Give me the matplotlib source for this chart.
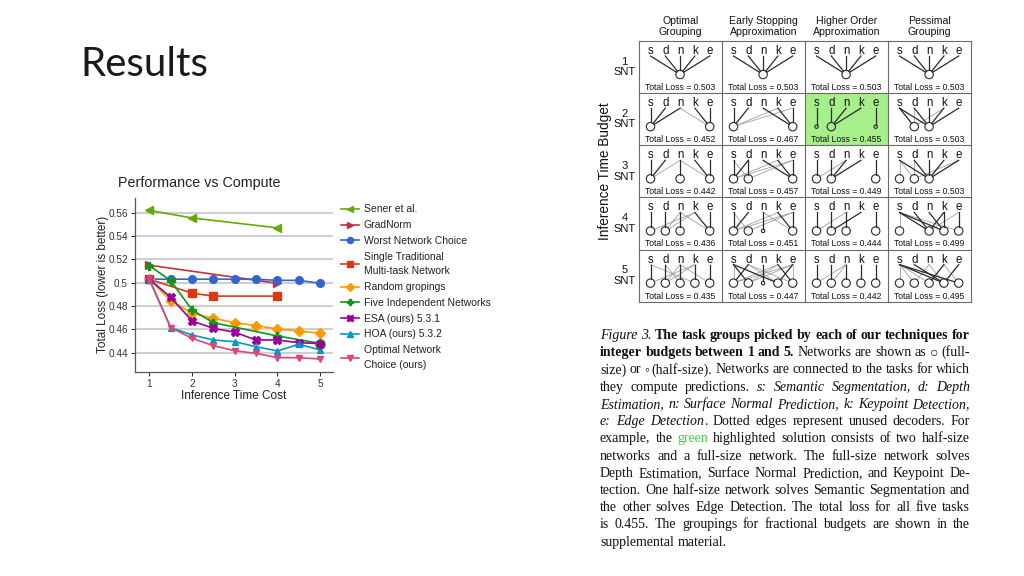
import matplotlib
matplotlib.use("Agg")
import matplotlib.pyplot as plt
from matplotlib import font_manager
from matplotlib.patches import Circle, Rectangle
import math

# ---------------- chart data ----------------
x_sener = [1, 2, 4]
y_sener = [0.562, 0.5555, 0.547]
x_gradnorm = [1, 4]
y_gradnorm = [0.515, 0.4995]
x_half = [1, 1.5, 2, 2.5, 3, 3.5, 4, 4.5, 5]
y_worst = [0.503, 0.503, 0.503, 0.503, 0.503, 0.503, 0.502, 0.502, 0.4995]
x_single = [1, 2, 2.5, 4]
y_single = [0.503, 0.491, 0.4885, 0.4885]
y_random = [0.503, 0.4846, 0.4738, 0.4695, 0.4657, 0.4632, 0.4603, 0.4586, 0.4566]
x_five = [1, 1.5, 2, 2.5, 4, 5]
y_five = [0.5146, 0.5018, 0.4766, 0.4657, 0.4543, 0.448]
y_esa = [0.503, 0.4875, 0.4672, 0.4609, 0.4575, 0.4509, 0.4509, 0.4486, 0.4478]
y_hoa = [0.503, 0.4615, 0.4552, 0.4509, 0.4494, 0.4451, 0.4415, 0.4472, 0.4424]
y_opt = [0.503, 0.4615, 0.4523, 0.446, 0.4417, 0.4394, 0.4357, 0.4357, 0.4346]

series_labels = ["Sener et al.", "GradNorm", "Worst Network Choice",
                 "Single Traditional\nMulti-task Network", "Random gropings",
                 "Five Independent Networks", "ESA (ours) 5.3.1", "HOA (ours) 5.3.2",
                 "Optimal Network\nChoice (ours)"]
series_colors = ["#66aa00", "#c4303f", "#3366cc", "#dc3912", "#ff9900",
                 "#109618", "#990099", "#0099c6", "#dd4477"]
y_ticks = [0.44, 0.46, 0.48, 0.5, 0.52, 0.54, 0.56]
y_tick_labels = ["0.44", "0.46", "0.48", "0.5", "0.52", "0.54", "0.56"]
x_ticks = [1, 2, 3, 4, 5]

# ---------------- diagram data ----------------
tasks = ["s", "d", "n", "k", "e"]
col_titles = ["Optimal\nGrouping", "Early Stopping\nApproximation",
              "Higher Order\nApproximation", "Pessimal\nGrouping"]
budgets = [1, 2, 3, 4, 5]
total_loss = [[0.503, 0.503, 0.503, 0.503],
              [0.452, 0.467, 0.455, 0.503],
              [0.442, 0.457, 0.449, 0.503],
              [0.436, 0.451, 0.444, 0.499],
              [0.435, 0.447, 0.442, 0.495]]
# each network: (slot, size, solid-task-edges, dotted-task-edges)
groupings = [
    [[(2, "F", "sdnke", "")]] * 4,
    [[(0, "F", "sdn", ""), (4, "F", "ke", "n")],
     [(0, "F", "sd", "ke"), (4, "F", "nke", "")],
     [(0, "H", "s", ""), (1, "F", "dnk", ""), (4, "H", "e", "")],
     [(1, "F", "s", "dk"), (2, "F", "sdnke", "")]],
    [[(0, "F", "sd", "n"), (2, "F", "n", ""), (4, "F", "ke", "n")],
     [(0, "F", "sd", "ke"), (1, "F", "d", "se"), (4, "F", "nke", "")],
     [(0, "F", "s", "n"), (1, "F", "dnk", ""), (4, "F", "e", "")],
     [(0, "F", "", "s"), (1, "F", "", "sde"), (2, "F", "sdnke", "")]],
    [[(0, "F", "s", "k"), (1, "F", "d", "nk"), (2, "F", "n", ""), (4, "F", "ke", "n")],
     [(0, "F", "sd", "ke"), (1, "F", "", "se"), (2, "H", "n", ""), (4, "F", "ke", "n")],
     [(0, "F", "s", "n"), (1, "F", "dk", ""), (2, "F", "n", ""), (4, "F", "e", "")],
     [(0, "F", "", "s"), (2, "F", "sdk", "e"), (3, "F", "snk", ""), (4, "F", "e", "s")]],
    [[(0, "F", "s", "k"), (1, "F", "d", "nk"), (2, "F", "n", "d"), (3, "F", "k", "s"), (4, "F", "e", "n")],
     [(0, "F", "d", "ske"), (1, "F", "s", "ke"), (2, "H", "n", ""), (3, "F", "se", "d"), (4, "F", "k", "de")],
     [(0, "F", "s", "n"), (1, "F", "d", "n"), (2, "F", "n", ""), (3, "F", "k", ""), (4, "F", "e", "")],
     [(0, "F", "", "s"), (1, "F", "", "sn"), (2, "F", "k", "s"), (3, "F", "sde", "n"), (4, "F", "s", "k")]],
]
highlight_cell = (1, 2)

caption_lines = [
    [("Figure 3.", "i"), (" The task groups picked by each of our techniques for", "b")],
    [("integer budgets between 1 and 5.", "b"), (" Networks are shown as \u25CB (full-", "n")],
    [("size) or \u25E6 (half-size). Networks are connected to the tasks for which", "n")],
    [("they compute predictions. ", "n"), ("s: Semantic Segmentation, d: Depth", "i")],
    [("Estimation, n: Surface Normal Prediction, k: Keypoint Detection,", "i")],
    [("e: Edge Detection", "i"), (". Dotted edges represent unused decoders. For", "n")],
    [("example, the ", "n"), ("green", "g"), (" highlighted solution consists of two half-size", "n")],
    [("networks and a full-size network.  The full-size network solves", "n")],
    [("Depth Estimation, Surface Normal Prediction, and Keypoint De-", "n")],
    [("tection. One half-size network solves Semantic Segmentation and", "n")],
    [("the other solves Edge Detection. The total loss for all five tasks", "n")],
    [("is 0.455. The groupings for fractional budgets are shown in the", "n")],
    [("supplemental material.", "n")],
]


def has_font(name):
    try:
        font_manager.findfont(font_manager.FontProperties(family=name),
                              fallback_to_default=False)
        return True
    except Exception:
        return False


plt.rcParams["font.family"] = ["Liberation Sans", "DejaVu Sans"]
narrow = has_font("Liberation Sans Narrow")
title_font = "Lato" if has_font("Lato") else "DejaVu Sans"

fig = plt.figure(figsize=(10.24, 5.76), dpi=100)
fig.patch.set_facecolor("white")

# overlay axes in pixel coordinates (origin top-left)
ov = fig.add_axes([0, 0, 1, 1])
ov.set_xlim(0, 1024)
ov.set_ylim(576, 0)
ov.axis("off")
ov.patch.set_visible(False)

# ---------------- slide title ----------------
ov.text(80, 75.5, "Results", fontsize=29, family=[title_font, "DejaVu Sans"],
        fontweight="normal", color="#1a1a1a", va="baseline", ha="left")

# ---------------- line chart ----------------
ax = fig.add_axes([135 / 1024, 1 - 371.7 / 576, 198 / 1024, 173.7 / 576])
series = [
    (x_sener, y_sener, "<", 5.5),
    (x_gradnorm, y_gradnorm, ">", 5.5),
    (x_half, y_worst, "o", 5.5),
    (x_single, y_single, "s", 5.2),
    (x_half, y_random, "D", 4.6),
    (x_five, y_five, "P", 6.2),
    (x_half, y_esa, "X", 6.2),
    (x_half, y_hoa, "^", 5.0),
    (x_half, y_opt, "v", 5.0),
]
for (xs, ys, mk, ms), lab, col in zip(series, series_labels, series_colors):
    ax.plot(xs, ys, color=col, lw=1.2, marker=mk, ms=ms, mec=col, mfc=col,
            label=lab, zorder=3)
ax.plot([x_half[-1]], [y_esa[-1]], "o", color=series_colors[6], mec="#555555",
        ms=6.5, zorder=4)

ax.set_xlim(0.665, 5.3)
ax.set_ylim(0.4237, 0.5726)
ax.set_yticks(y_ticks)
ax.set_yticklabels(y_tick_labels)
ax.set_xticks(x_ticks)
ax.grid(axis="y", color="#cfcfcf", lw=1.5)
ax.set_axisbelow(True)
for s in ["top", "right"]:
    ax.spines[s].set_visible(False)
for s in ["left", "bottom"]:
    ax.spines[s].set_color("#555555")
    ax.spines[s].set_linewidth(0.9)
ax.tick_params(axis="both", labelsize=7.2, colors="#333333", length=3, width=0.8,
               pad=2)
ax.patch.set_visible(False)
ax.set_ylabel("Total Loss (lower is better)", fontsize=8.5, color="#222222", va="center")
ax.yaxis.set_label_coords(-0.162, 0.5)
ax.set_xlabel("Inference Time Cost", fontsize=8.5, color="#222222", va="center")
ax.xaxis.set_label_coords(0.5, -0.14)

ov.text(118, 187.3, "Performance vs Compute", fontsize=10.3, color="#222222",
        ha="left", va="baseline")

leg = ax.legend(loc="upper left", bbox_to_anchor=(341 / 1024, 1 - 204.5 / 576),
                bbox_transform=fig.transFigure, frameon=False, fontsize=7.5,
                handlelength=1.75, handletextpad=0.45, labelspacing=0.55,
                borderpad=0, borderaxespad=0, markerscale=0.8)
for t in leg.get_texts():
    t.set_color("#222222")
    t.set_linespacing(1.6)

# ---------------- diagram ----------------
gx0, gy0, cw, ch = 639.0, 41.0, 83.0, 52.15
line_col = "#6a6a6a"
for r in range(len(budgets)):
    for c in range(len(col_titles)):
        x0 = gx0 + c * cw
        y0 = gy0 + r * ch
        if (r, c) == highlight_cell:
            ov.add_patch(Rectangle((x0, y0), cw, ch, fc="#a6ef8b", ec="none", zorder=1))
        slot_x = [x0 + 11.5 + 14.8 * i for i in range(len(tasks))]
        for i, t in enumerate(tasks):
            ov.text(slot_x[i], y0 + 13, t, ha="center", va="baseline", fontsize=8.3,
                    color="#111111", zorder=4)
        for slot, size, solid, dotted in groupings[r][c]:
            rad = 4.2 if size == "F" else 1.7
            cx, cy = slot_x[slot], y0 + 33.5
            for tstr, sty in ((dotted, "d"), (solid, "s")):
                for t in tstr:
                    tx, ty = slot_x[tasks.index(t)], y0 + 15
                    dx, dy = tx - cx, ty - cy
                    L = math.hypot(dx, dy)
                    ex, ey = cx + dx / L * rad, cy + dy / L * rad
                    if sty == "s":
                        ov.plot([tx, ex], [ty, ey], color="#2a2a2a", lw=0.9, zorder=3)
                    else:
                        ov.plot([tx, ex], [ty, ey], color="#a0a0a0", lw=0.6, zorder=2)
            ov.add_patch(Circle((cx, cy), rad, fc="none", ec="#2a2a2a", lw=0.8, zorder=3))
        loss_txt = "Total Loss = %.3f" % total_loss[r][c]
        if narrow:
            ov.text(x0 + cw / 2, y0 + 49, loss_txt, ha="center", va="baseline",
                    fontsize=7.6, family=["Liberation Sans Narrow", "DejaVu Sans"],
                    color="#111111", zorder=4)
        else:
            ov.text(x0 + cw / 2, y0 + 49, loss_txt, ha="center", va="baseline",
                    fontsize=6.2, color="#111111", zorder=4)

for c in range(len(col_titles) + 1):
    ov.plot([gx0 + c * cw] * 2, [gy0, gy0 + 5 * ch], color=line_col, lw=0.8, zorder=5)
for r in range(len(budgets) + 1):
    ov.plot([gx0, gx0 + 4 * cw], [gy0 + r * ch] * 2, color=line_col, lw=0.8, zorder=5)

for c, title in enumerate(col_titles):
    ov.text(gx0 + (c + 0.5) * cw, 26.7, title, ha="center", va="center",
            fontsize=7.6, linespacing=1.1, color="#111111")
for r, b in enumerate(budgets):
    ov.text(624.5, gy0 + (r + 0.5) * ch, "%d\nSNT" % b, ha="center", va="center",
            fontsize=8, linespacing=1.05, color="#111111")
ov.text(605.5, gy0 + 2.5 * ch, "Inference Time Budget", rotation=90, ha="center",
        va="center", fontsize=9.8, color="#111111")

# ---------------- caption (justified) ----------------
fig.canvas.draw()
renderer = fig.canvas.get_renderer()
serif = ["Liberation Serif", "DejaVu Serif"]
cap_size = 10.0
styles = {
    "n": dict(style="normal", weight="normal", color="#111111"),
    "i": dict(style="italic", weight="normal", color="#111111"),
    "b": dict(style="normal", weight="bold", color="#111111"),
    "g": dict(style="normal", weight="normal", color="#3fd13f"),
}


def text_width(s, sty):
    t = ov.text(0, 0, s, fontsize=cap_size, family=serif, **styles[sty])
    w = t.get_window_extent(renderer).width
    t.remove()
    return w


space_w = text_width("a a", "n") - text_width("aa", "n")
cap_x0, cap_w = 600.0, 370.0
for li, segs in enumerate(caption_lines):
    words = [[]]
    for txt, sty in segs:
        parts = txt.split(" ")
        for pi, p in enumerate(parts):
            if pi > 0:
                words.append([])
            if p:
                words[-1].append((p, sty))
    words = [w for w in words if w]
    widths = [[text_width(p, s) for p, s in w] for w in words]
    total = sum(sum(w) for w in widths)
    last = li == len(caption_lines) - 1
    if last or len(words) < 2:
        gap = space_w
    else:
        gap = max((cap_w - total) / (len(words) - 1), 0.6 * space_w)
    yb = 339 + 17.22 * li
    x = cap_x0
    for w, ws in zip(words, widths):
        for (p, s), pw in zip(w, ws):
            ov.text(x, yb, p, fontsize=cap_size, family=serif, ha="left",
                    va="baseline", **styles[s])
            x += pw
        x += gap

fig.savefig("out.png", dpi=100, facecolor="white")
